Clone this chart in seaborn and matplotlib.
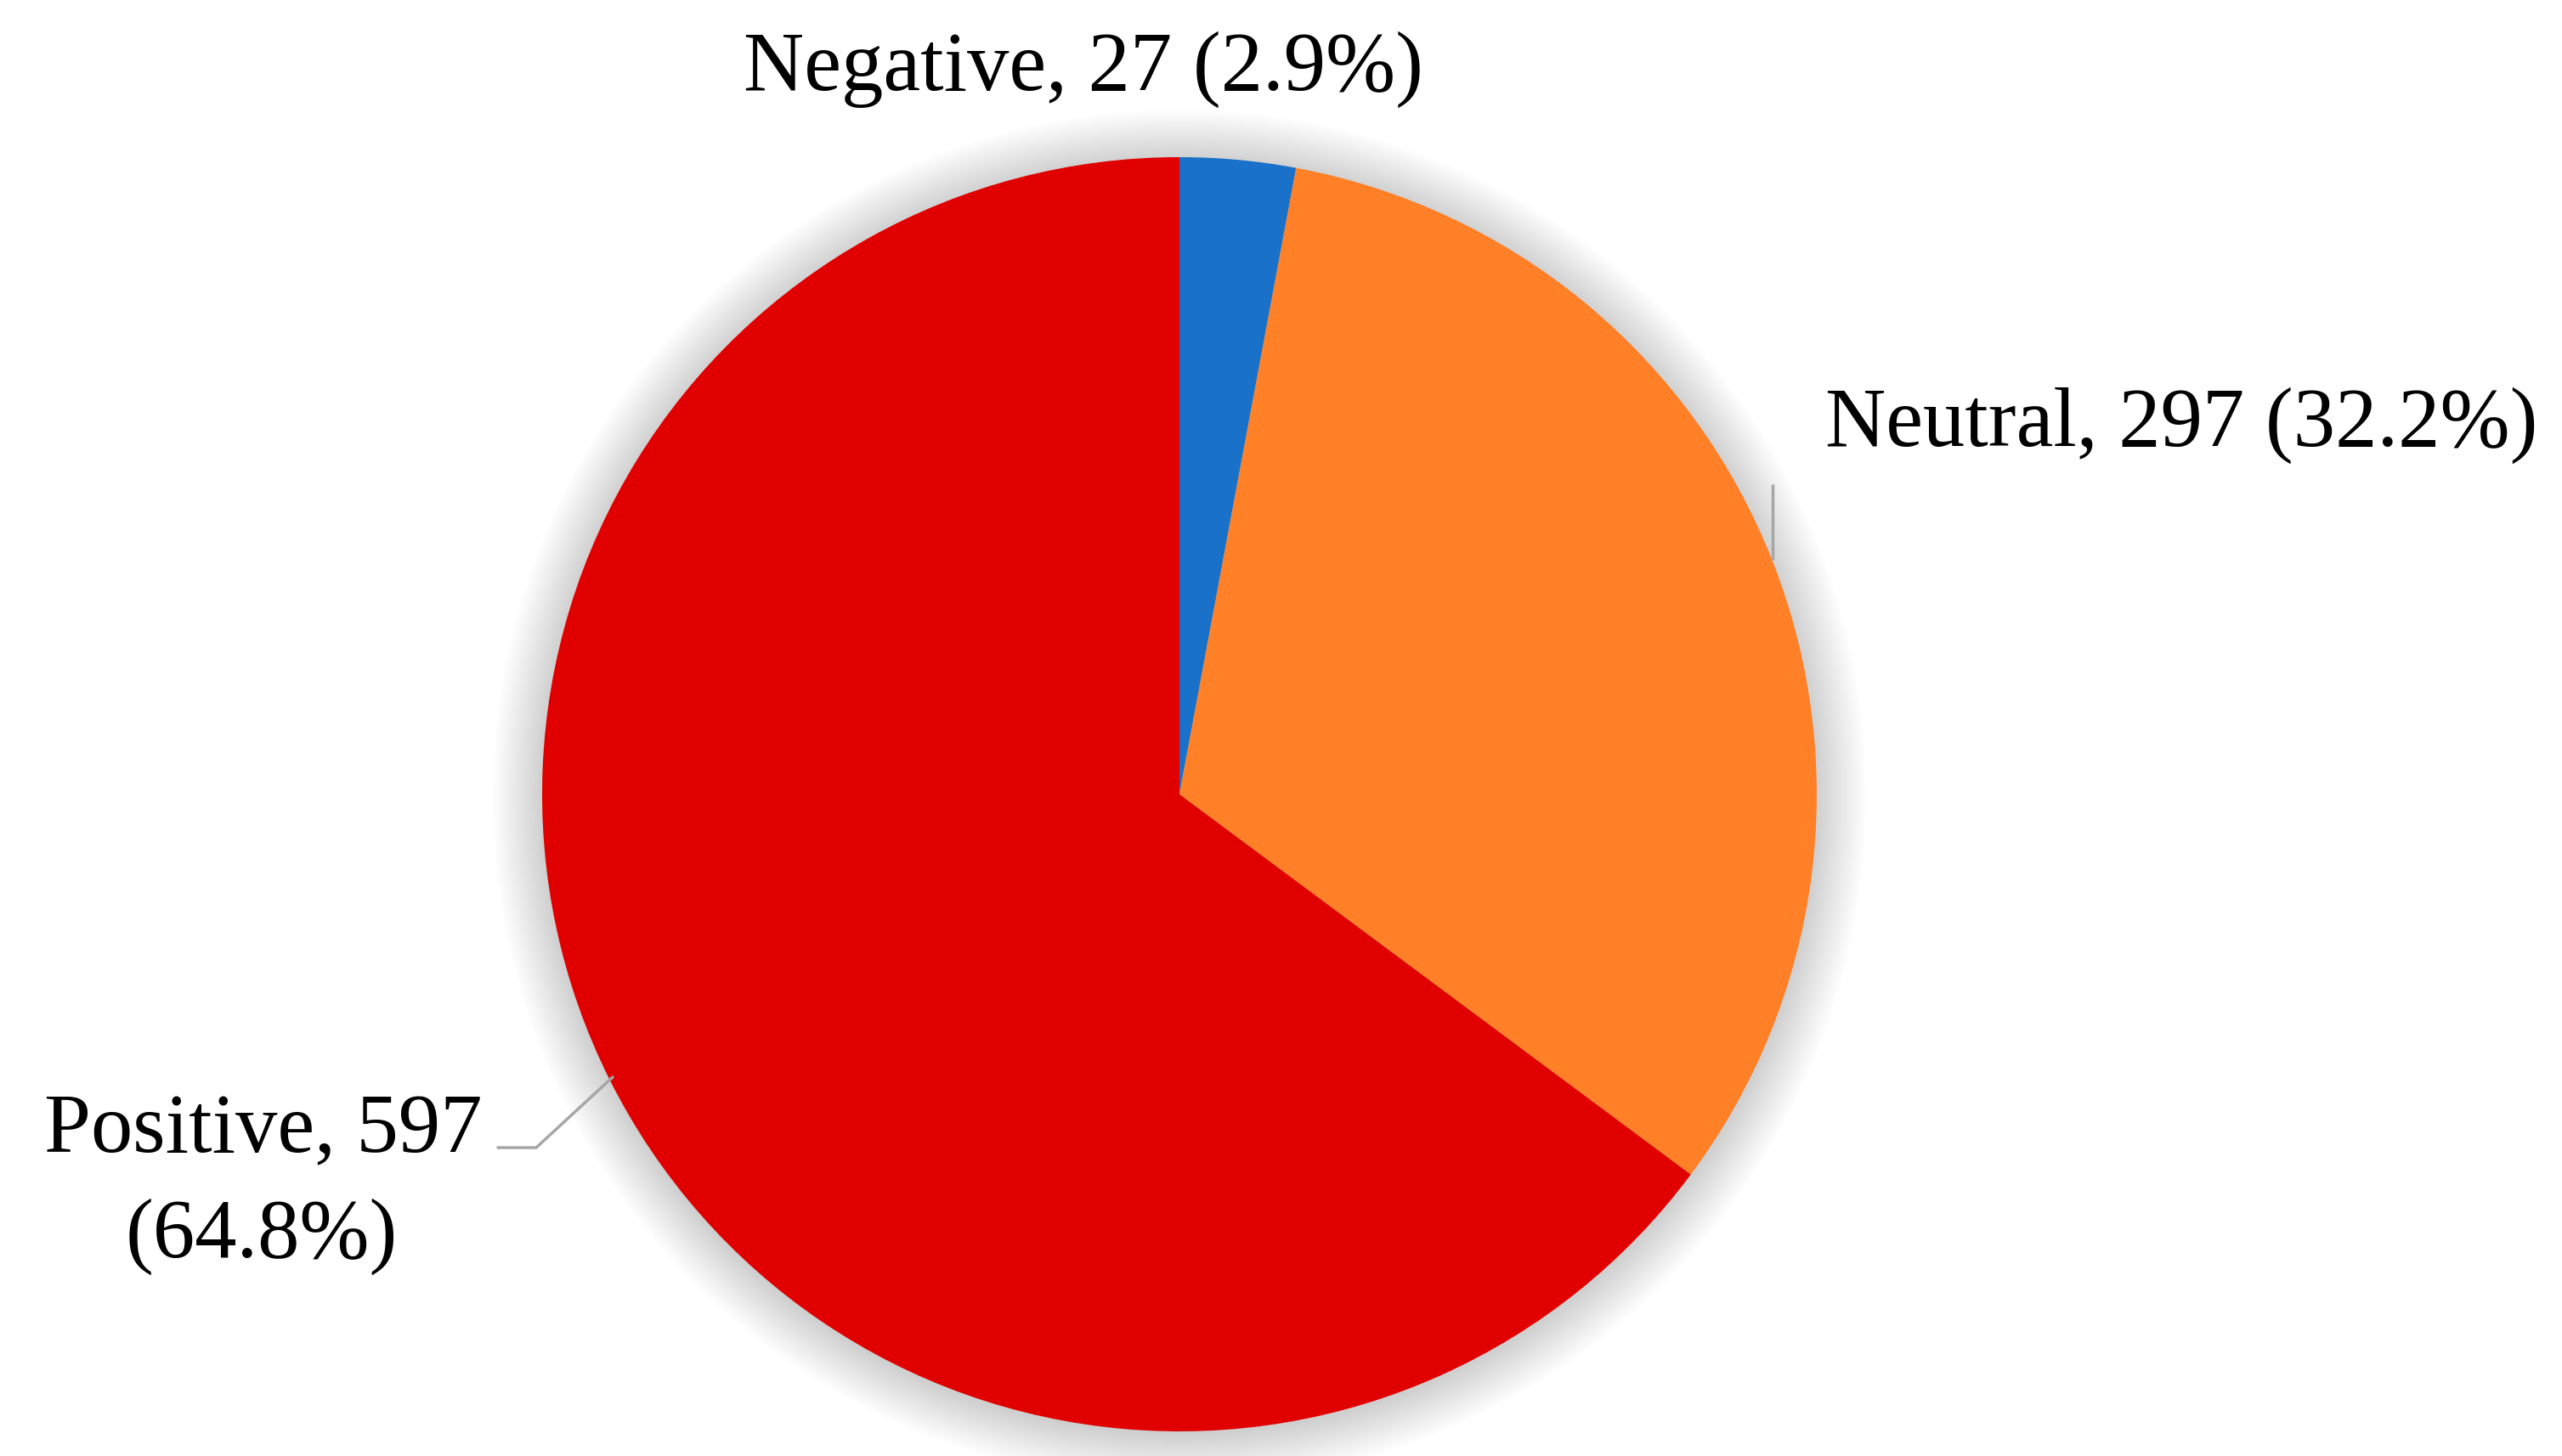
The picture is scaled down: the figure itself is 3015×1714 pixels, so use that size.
import matplotlib
matplotlib.use("Agg")
import matplotlib.pyplot as plt
import seaborn as sns
from matplotlib.patches import Circle

sns.set_theme(style="white")
plt.rcParams['font.family'] = ['Liberation Serif', 'DejaVu Serif']

categories = ["Negative", "Neutral", "Positive"]
counts = [27, 297, 597]
percents = [2.9, 32.2, 64.8]
colors = ["#1A71C9", "#FF8026", "#E00000"]

W, H = 3015, 1715
fig = plt.figure(figsize=(W / 100, H / 100), dpi=100)
ax = fig.add_axes([0, 0, 1, 1])
fig.patch.set_facecolor("white")

cx, cy, R = 1388, H - 936, 750

# soft shadow
for i in range(24):
    ax.add_patch(Circle((cx, cy - 3), R + 1 + i * 2.5, color="#000000",
                        alpha=0.007, lw=0, zorder=0))

ax.pie(counts, colors=colors, startangle=90, counterclock=False,
       center=(cx, cy), radius=R, wedgeprops=dict(linewidth=0), frame=False)

ax.set_xlim(0, W)
ax.set_ylim(0, H)
ax.set_aspect("equal")
ax.axis("off")

fs = 71
lbl = [f"{c}, {n} ({p}%)" for c, n, p in zip(categories, counts, percents)]

ax.text(1275, H - 106, lbl[0], fontsize=fs, ha="center", va="baseline", color="black")
ax.text(2567, H - 525, lbl[1], fontsize=fs, ha="center", va="baseline", color="black")
ax.text(310, H - 1356, f"{categories[2]}, {counts[2]}", fontsize=fs, ha="center",
        va="baseline", color="black")
ax.text(308, H - 1480, f"({percents[2]}%)", fontsize=fs, ha="center",
        va="baseline", color="black")

# leader lines
ax.plot([2086, 2086], [H - 660, H - 571], color="#A6A6A6", lw=2.5, solid_capstyle="butt")
ax.plot([586, 631, 721], [H - 1352, H - 1352, H - 1269], color="#A6A6A6", lw=2.5)

fig.savefig("out.png", dpi=100, facecolor="white")
